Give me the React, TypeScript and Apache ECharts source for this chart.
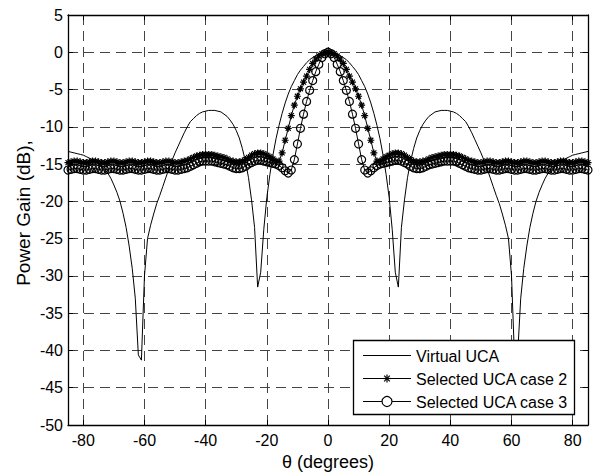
import React, { useEffect, useRef } from "react";
import * as echarts from "echarts";

const theta = [
  -85, -84, -83, -82, -81, -80, -79, -78, -77, -76,
  -75, -74, -73, -72, -71, -70, -69, -68, -67, -66,
  -65, -64, -63, -62, -61, -60, -59, -58, -57, -56,
  -55, -54, -53, -52, -51, -50, -49, -48, -47, -46,
  -45, -44, -43, -42, -41, -40, -39, -38, -37, -36,
  -35, -34, -33, -32, -31, -30, -29, -28, -27, -26,
  -25, -24, -23, -22, -21, -20, -19, -18, -17, -16,
  -15, -14, -13, -12, -11, -10, -9, -8, -7, -6,
  -5, -4, -3, -2, -1, 0, 1, 2, 3, 4,
  5, 6, 7, 8, 9, 10, 11, 12, 13, 14,
  15, 16, 17, 18, 19, 20, 21, 22, 23, 24,
  25, 26, 27, 28, 29, 30, 31, 32, 33, 34,
  35, 36, 37, 38, 39, 40, 41, 42, 43, 44,
  45, 46, 47, 48, 49, 50, 51, 52, 53, 54,
  55, 56, 57, 58, 59, 60, 61, 62, 63, 64,
  65, 66, 67, 68, 69, 70, 71, 72, 73, 74,
  75, 76, 77, 78, 79, 80, 81, 82, 83, 84,
  85,
];

const virtualUCA = [
  -13.3, -13.4, -13.5, -13.6, -13.7, -13.8, -14.0, -14.2, -14.4, -14.6,
  -14.9, -15.3, -15.7, -16.2, -16.9, -17.8, -18.8, -20.0, -21.6, -23.5,
  -26.0, -29.0, -33.0, -40.6, -41.3, -30.0, -25.0, -23.2, -21.7, -20.3,
  -19.2, -18.0, -16.8, -15.6, -14.5, -13.5, -12.6, -11.7, -10.8, -10.0,
  -9.3, -8.9, -8.5, -8.2, -8.0, -7.9, -7.8, -7.8, -7.8, -7.9,
  -8.0, -8.3, -8.6, -9.1, -9.7, -10.5, -11.5, -12.9, -14.6, -16.8,
  -19.8, -23.5, -31.5, -29.5, -23.8, -19.5, -16.4, -13.8, -11.6, -9.8,
  -8.2, -6.8, -5.6, -4.6, -3.8, -3.0, -2.4, -1.9, -1.4, -1.0,
  -0.7, -0.45, -0.25, -0.1, -0.03, 0, -0.03, -0.1, -0.25, -0.45,
  -0.7, -1.0, -1.4, -1.9, -2.4, -3.0, -3.8, -4.6, -5.6, -6.8,
  -8.2, -9.8, -11.6, -13.8, -16.4, -19.5, -23.8, -29.5, -31.5, -23.5,
  -19.8, -16.8, -14.6, -12.9, -11.5, -10.5, -9.7, -9.1, -8.6, -8.3,
  -8.0, -7.9, -7.8, -7.8, -7.8, -7.9, -8.0, -8.2, -8.5, -8.9,
  -9.3, -10.0, -10.8, -11.7, -12.6, -13.5, -14.5, -15.6, -16.8, -18.0,
  -19.2, -20.3, -21.7, -23.2, -25.0, -30.0, -41.3, -40.6, -33.0, -29.0,
  -26.0, -23.5, -21.6, -20.0, -18.8, -17.8, -16.9, -16.2, -15.7, -15.3,
  -14.9, -14.6, -14.4, -14.2, -14.0, -13.8, -13.7, -13.6, -13.5, -13.4,
  -13.3,
];

const selectedCase2 = [
  -14.8, -14.7, -14.6, -14.6, -14.7, -14.8, -14.8, -14.7, -14.6, -14.6,
  -14.7, -14.8, -14.8, -14.7, -14.6, -14.6, -14.7, -14.8, -14.8, -14.7,
  -14.6, -14.6, -14.7, -14.8, -14.8, -14.7, -14.6, -14.6, -14.7, -14.8,
  -14.8, -14.7, -14.6, -14.6, -14.7, -14.8, -14.8, -14.7, -14.6, -14.5,
  -14.3, -14.1, -13.9, -13.8, -13.7, -13.7, -13.7, -13.7, -13.8, -13.9,
  -14.0, -14.1, -14.3, -14.5, -14.6, -14.7, -14.7, -14.6, -14.4, -14.1,
  -13.8, -13.6, -13.5, -13.5, -13.6, -13.8, -14.0, -14.3, -14.6, -14.6,
  -13.5, -11.8, -10.2, -8.5, -7.1, -5.9, -4.9, -4.0, -3.2, -2.3,
  -1.5, -0.9, -0.5, -0.2, -0.05, 0, -0.05, -0.2, -0.5, -0.9,
  -1.5, -2.3, -3.2, -4.0, -4.9, -5.9, -7.1, -8.5, -10.2, -11.8,
  -13.5, -14.6, -14.6, -14.3, -14.0, -13.8, -13.6, -13.5, -13.5, -13.6,
  -13.8, -14.1, -14.4, -14.6, -14.7, -14.7, -14.6, -14.5, -14.3, -14.1,
  -14.0, -13.9, -13.8, -13.7, -13.7, -13.7, -13.7, -13.8, -13.9, -14.1,
  -14.3, -14.5, -14.6, -14.7, -14.8, -14.8, -14.7, -14.6, -14.6, -14.7,
  -14.8, -14.8, -14.7, -14.6, -14.6, -14.7, -14.8, -14.8, -14.7, -14.6,
  -14.6, -14.7, -14.8, -14.8, -14.7, -14.6, -14.6, -14.7, -14.8, -14.8,
  -14.7, -14.6, -14.6, -14.7, -14.8, -14.8, -14.7, -14.6, -14.6, -14.7,
  -14.8,
];

const selectedCase3 = [
  -15.8, -15.7, -15.6, -15.6, -15.7, -15.8, -15.8, -15.7, -15.6, -15.6,
  -15.7, -15.8, -15.8, -15.7, -15.6, -15.6, -15.7, -15.8, -15.8, -15.7,
  -15.6, -15.6, -15.7, -15.8, -15.8, -15.7, -15.6, -15.6, -15.7, -15.8,
  -15.8, -15.7, -15.6, -15.6, -15.7, -15.8, -15.8, -15.7, -15.6, -15.5,
  -15.3, -15.1, -14.9, -14.7, -14.6, -14.6, -14.6, -14.6, -14.7, -14.8,
  -14.9, -15.0, -15.1, -15.3, -15.5, -15.6, -15.6, -15.5, -15.3, -15.0,
  -14.8, -14.6, -14.5, -14.5, -14.6, -14.7, -14.8, -14.9, -15.0, -15.2,
  -15.5, -15.9, -16.2, -15.8, -14.4, -12.3, -10.2, -8.3, -6.6, -5.1,
  -3.8, -2.6, -1.6, -0.7, -0.2, 0, -0.2, -0.7, -1.6, -2.6,
  -3.8, -5.1, -6.6, -8.3, -10.2, -12.3, -14.4, -15.8, -16.2, -15.9,
  -15.5, -15.2, -15.0, -14.9, -14.8, -14.7, -14.6, -14.5, -14.5, -14.6,
  -14.8, -15.0, -15.3, -15.5, -15.6, -15.6, -15.5, -15.3, -15.1, -15.0,
  -14.9, -14.8, -14.7, -14.6, -14.6, -14.6, -14.6, -14.7, -14.9, -15.1,
  -15.3, -15.5, -15.6, -15.7, -15.8, -15.8, -15.7, -15.6, -15.6, -15.7,
  -15.8, -15.8, -15.7, -15.6, -15.6, -15.7, -15.8, -15.8, -15.7, -15.6,
  -15.6, -15.7, -15.8, -15.8, -15.7, -15.6, -15.6, -15.7, -15.8, -15.8,
  -15.7, -15.6, -15.6, -15.7, -15.8, -15.8, -15.7, -15.6, -15.6, -15.7,
  -15.8,
];

const seriesNames = ["Virtual UCA", "Selected UCA case 2", "Selected UCA case 3"];
const xTitle = "θ (degrees)";
const yTitle = "Power Gain (dB),";

const FONT = "'Liberation Sans', Arial, Helvetica, sans-serif";
const STAR = "path://M5,0L5,10M0,5L10,5M1.46,1.46L8.54,8.54M1.46,8.54L8.54,1.46";

export default function App() {
  const ref = useRef<HTMLDivElement>(null);

  useEffect(() => {
    if (!ref.current) return;
    const chart = echarts.init(ref.current, null, { renderer: "svg" });

    const gridDash = { color: "#444", width: 1, type: [10, 6] as any };
    const axisLineStyle = { color: "#000", width: 1.3 };

    const lx = 353;
    const ly = 340;
    const rows = [355, 378, 401];
    const lineX0 = 363;
    const lineX1 = 411;
    const midX = (lineX0 + lineX1) / 2;
    const sr = 4;
    const sd = sr * 0.7071;

    const legendGraphics: any[] = [
      {
        type: "rect",
        shape: { x: lx + 0.5, y: ly + 0.5, width: 221, height: 74 },
        style: { fill: "#fff", stroke: "#000", lineWidth: 1.3 },
        z: 100,
      },
    ];
    rows.forEach((ry, i) => {
      legendGraphics.push({
        type: "line",
        shape: { x1: lineX0, y1: ry + 0.5, x2: lineX1, y2: ry + 0.5 },
        style: { stroke: "#000", lineWidth: 1 },
        z: 101,
      });
      legendGraphics.push({
        type: "text",
        x: 416,
        y: ry + 1,
        style: {
          text: seriesNames[i],
          fontSize: 16,
          fontFamily: FONT,
          fill: "#000",
          align: "left",
          verticalAlign: "middle",
        },
        z: 101,
      });
    });
    [
      [midX, rows[1] - sr, midX, rows[1] + sr],
      [midX - sr, rows[1], midX + sr, rows[1]],
      [midX - sd, rows[1] - sd, midX + sd, rows[1] + sd],
      [midX - sd, rows[1] + sd, midX + sd, rows[1] - sd],
    ].forEach(([x1, y1, x2, y2]) => {
      legendGraphics.push({
        type: "line",
        shape: { x1, y1: y1 + 0.5, x2, y2: y2 + 0.5 },
        style: { stroke: "#000", lineWidth: 1.2 },
        z: 102,
      });
    });
    legendGraphics.push({
      type: "circle",
      shape: { cx: midX, cy: rows[2] + 0.5, r: 5 },
      style: { fill: "#fff", stroke: "#000", lineWidth: 1.2 },
      z: 102,
    });

    const tickStyle = { show: true, inside: true, length: 5, lineStyle: { color: "#000", width: 1 } };

    const option: any = {
      animation: false,
      backgroundColor: "#fff",
      textStyle: { fontFamily: FONT },
      grid: { left: 68, right: 12, top: 15, bottom: 50, containLabel: false },
      xAxis: [
        {
          type: "value",
          min: -85,
          max: 85,
          splitNumber: 8,
          position: "bottom",
          axisLine: { show: true, onZero: false, lineStyle: axisLineStyle },
          axisTick: tickStyle,
          axisLabel: {
            show: true,
            fontSize: 16,
            color: "#000",
            fontFamily: FONT,
            margin: 7,
            showMinLabel: false,
            showMaxLabel: false,
          },
          splitLine: { show: true, lineStyle: gridDash },
          name: xTitle,
          nameLocation: "middle",
          nameGap: 28,
          nameTextStyle: { fontSize: 18, color: "#000", fontFamily: FONT },
        },
        {
          type: "value",
          min: -85,
          max: 85,
          splitNumber: 8,
          position: "top",
          axisLine: { show: true, onZero: false, lineStyle: axisLineStyle },
          axisTick: tickStyle,
          axisLabel: { show: false },
          splitLine: { show: false },
        },
      ],
      yAxis: [
        {
          type: "value",
          min: -50,
          max: 5,
          interval: 5,
          position: "left",
          axisLine: { show: true, onZero: false, lineStyle: axisLineStyle },
          axisTick: tickStyle,
          axisLabel: { show: true, fontSize: 16, color: "#000", fontFamily: FONT, margin: 5 },
          splitLine: { show: true, lineStyle: gridDash },
        },
        {
          type: "value",
          min: -50,
          max: 5,
          interval: 5,
          position: "right",
          axisLine: { show: true, onZero: false, lineStyle: axisLineStyle },
          axisTick: tickStyle,
          axisLabel: { show: false },
          splitLine: { show: false },
        },
      ],
      series: [
        {
          name: seriesNames[0],
          type: "line",
          xAxisIndex: 0,
          yAxisIndex: 0,
          data: theta.map((t, i) => [t, virtualUCA[i]]),
          symbol: "none",
          lineStyle: { color: "#000", width: 1 },
          itemStyle: { color: "#000" },
          silent: true,
          z: 3,
        },
        {
          name: seriesNames[1],
          type: "line",
          xAxisIndex: 0,
          yAxisIndex: 0,
          data: theta.map((t, i) => [t, selectedCase2[i]]),
          symbol: STAR,
          symbolSize: 7,
          showSymbol: true,
          lineStyle: { color: "#000", width: 1 },
          itemStyle: { color: "rgba(0,0,0,0)", borderColor: "#000", borderWidth: 1.2 },
          silent: true,
          z: 4,
        },
        {
          name: seriesNames[2],
          type: "line",
          xAxisIndex: 0,
          yAxisIndex: 0,
          data: theta.map((t, i) => [t, selectedCase3[i]]),
          symbol: "circle",
          symbolSize: 8,
          showSymbol: true,
          lineStyle: { color: "#000", width: 1 },
          itemStyle: { color: "rgba(0,0,0,0)", borderColor: "#000", borderWidth: 1.2 },
          silent: true,
          z: 5,
        },
      ],
      graphic: [
        {
          type: "text",
          x: 23,
          y: 213,
          rotation: Math.PI / 2,
          style: {
            text: yTitle,
            fontSize: 19,
            fontFamily: FONT,
            fill: "#000",
            align: "center",
            verticalAlign: "middle",
          },
        },
        ...legendGraphics,
      ],
    };

    chart.setOption(option);
    return () => {
      chart.dispose();
    };
  }, []);

  return (
    <div
      ref={ref}
      style={{ position: "fixed", left: 0, top: 0, width: 600, height: 476, background: "#fff" }}
    />
  );
}
